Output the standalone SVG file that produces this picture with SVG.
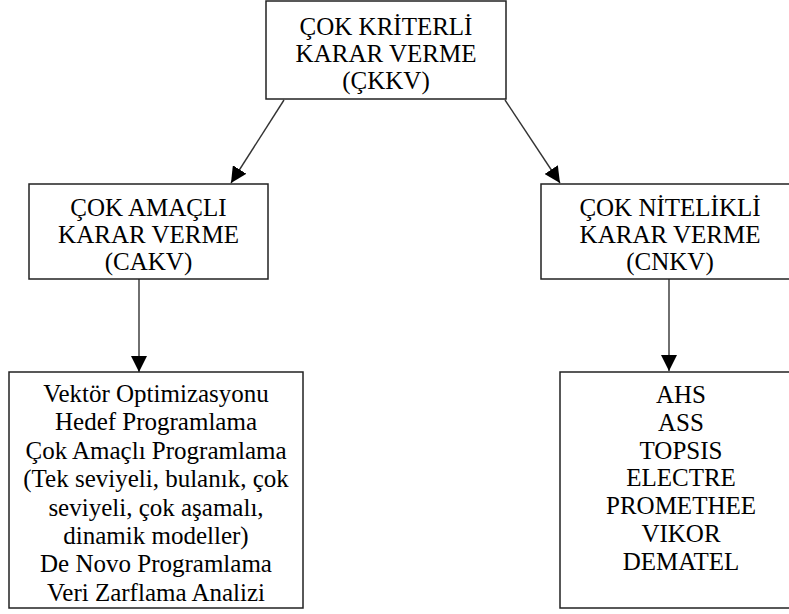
<svg xmlns="http://www.w3.org/2000/svg" width="789" height="614" viewBox="0 0 789 614">
<defs>
<style>
.box{fill:#fff;stroke:#222;stroke-width:1.5}
.t{font-family:'Liberation Serif','DejaVu Serif','Times New Roman',serif;font-size:25px;fill:#000;text-anchor:middle}
.c{stroke:#333;stroke-width:1.4;fill:none;marker-end:url(#ah)}
</style>
<marker id="ah" markerUnits="userSpaceOnUse" markerWidth="16" markerHeight="16" viewBox="0 0 16 16" refX="16" refY="8" orient="auto">
<path d="M0,0 L16,8 L0,16 z" fill="#000"/>
</marker>
</defs>
<rect width="789" height="614" fill="#fff"/>
<g id="connectors">
<line class="c" x1="284" y1="100" x2="231" y2="183"/>
<line class="c" x1="505" y1="100" x2="560" y2="183"/>
<line class="c" x1="139" y1="279" x2="139" y2="372"/>
<line class="c" x1="669" y1="279" x2="669" y2="371"/>
</g>
<g id="ckkv">
<rect class="box" x="266" y="1" width="240" height="98"/>
<text class="t" x="386" y="35">ÇOK KRİTERLİ</text>
<text class="t" x="386" y="62">KARAR VERME</text>
<text class="t" x="386" y="89">(ÇKKV)</text>
</g>
<g id="cakv">
<rect class="box" x="29" y="184" width="239" height="95"/>
<text class="t" x="148.5" y="216">ÇOK AMAÇLI</text>
<text class="t" x="148.5" y="243">KARAR VERME</text>
<text class="t" x="148.5" y="270">(CAKV)</text>
</g>
<g id="cnkv">
<rect class="box" x="541" y="184" width="260" height="95"/>
<text class="t" x="670" y="216">ÇOK NİTELİKLİ</text>
<text class="t" x="670" y="243">KARAR VERME</text>
<text class="t" x="670" y="270">(CNKV)</text>
</g>
<g id="cakv-methods">
<rect class="box" x="9" y="372" width="294" height="236"/>
<text class="t" x="156" y="402">Vektör Optimizasyonu</text>
<text class="t" x="156" y="430.4">Hedef Programlama</text>
<text class="t" x="156" y="458.8">Çok Amaçlı Programlama</text>
<text class="t" x="156" y="487.2">(Tek seviyeli, bulanık, çok</text>
<text class="t" x="156" y="515.6">seviyeli, çok aşamalı,</text>
<text class="t" x="156" y="544">dinamik modeller)</text>
<text class="t" x="156" y="572.4">De Novo Programlama</text>
<text class="t" x="156" y="600.8">Veri Zarflama Analizi</text>
</g>
<g id="cnkv-methods">
<rect class="box" x="560" y="372" width="240" height="236"/>
<text class="t" x="681" y="403">AHS</text>
<text class="t" x="681" y="430.8">ASS</text>
<text class="t" x="681" y="458.6">TOPSIS</text>
<text class="t" x="681" y="486.4">ELECTRE</text>
<text class="t" x="681" y="514.2">PROMETHEE</text>
<text class="t" x="681" y="542">VIKOR</text>
<text class="t" x="681" y="569.8">DEMATEL</text>
</g>
</svg>
